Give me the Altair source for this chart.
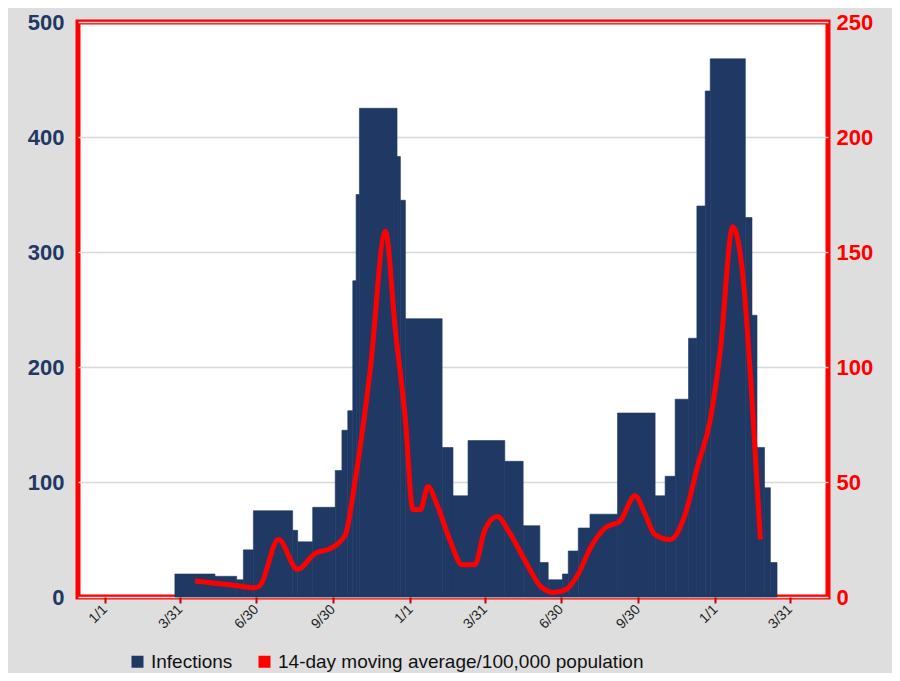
import altair as alt
import pandas as pd

# bar segments: start day (days since 2020-01-01) and infections
bar_start = [84,132,158,166,178,225,231,249,276,284,291,297,301,305,350,354,360,404,417,435,479,501,521,531,548,555,567,581,614,659,671,683,699,709,719,725,767,775,781,790,797]
bar_value = [20,18,15,41,75,58,48,78,110,145,162,275,350,425,383,345,242,130,88,136,118,62,30,15,20,40,60,72,160,88,105,172,225,340,440,468,330,245,130,95,30]
bar_last_end = 805

# 14-day moving average per 100,000
ma_day = [108,132,156,180,186,208,231,252,270,288,300,318,336,348,360,369,378,387,398,413,428,443,455,470,483,497,509,521,537,551,567,581,599,617,635,647,659,677,695,710,725,737,752,764,775,785]
ma_val = [7,6,5,4,5,25,12,19,21,27,51,99,159,116,77,38,38,48,40,25,14,14,29,35,29,20,12,5,2,3,10,21,30,33,44,36,27,25,36,57,77,107,161,140,86,25]

tick_days = [0,90,181,273,366,455,546,638,731,820]
tick_labels = ["1/1","3/31","6/30","9/30","1/1","3/31","6/30","9/30","1/1","3/31"]

NAVY = "#1f3864"
RED = "#ff0000"
L1 = "Infections"
L2 = "14-day moving average/100,000 population"

bars = pd.DataFrame({"s": bar_start, "e": bar_start[1:] + [bar_last_end], "v": bar_value, "k": L1})
ma = pd.DataFrame({"d": ma_day, "v": ma_val, "k": L2})

label_expr = "{" + ",".join(f"'{d}':'{l}'" for d, l in zip(tick_days, tick_labels)) + "}[datum.value]"

xscale = alt.Scale(domain=[-32, 866], nice=False, zero=False)
xaxis = alt.Axis(values=tick_days, labelExpr=label_expr, labelAngle=-45, labelAlign="right",
                 labelBaseline="middle", labelFontSize=14, labelColor="#222", grid=False,
                 tickColor="#cc0000", tickSize=6, tickWidth=2, domain=False, title=None, labelPadding=4)

color = alt.Color("k:N", scale=alt.Scale(domain=[L1, L2], range=[NAVY, RED]),
                  legend=alt.Legend(title=None, orient="none", legendX=50, legendY=630, direction="horizontal",
                                    labelFontSize=19, labelColor="#111", symbolType="square",
                                    symbolSize=110, columnPadding=22, labelLimit=0))

b = alt.Chart(bars).mark_bar(color=NAVY, stroke=NAVY, strokeWidth=0.6).encode(
    x=alt.X("s:Q", scale=xscale, axis=xaxis),
    x2="e:Q",
    y=alt.Y("v:Q", scale=alt.Scale(domain=[0, 500], nice=False),
            axis=alt.Axis(values=[0,100,200,300,400,500], labelFontSize=22, labelFontWeight="bold",
                          labelColor=NAVY, gridColor="#d8d8d8", gridWidth=1.5, ticks=False,
                          domain=False, title=None, labelPadding=14)),
    y2=alt.datum(0),
    color=color,
)

l = alt.Chart(ma).mark_line(strokeWidth=5, interpolate="monotone").encode(
    x=alt.X("d:Q", scale=xscale),
    y=alt.Y("v:Q", scale=alt.Scale(domain=[0, 250], nice=False),
            axis=alt.Axis(orient="right", values=[0,50,100,150,200,250], labelFontSize=22,
                          labelFontWeight="bold", labelColor=RED, grid=False, ticks=False,
                          domain=False, title=None, labelPadding=8)),
    color=color,
)

chart = alt.layer(b, l).resolve_scale(y="independent").properties(
    width=750, height=575, background="#dedede",
    autosize=alt.AutoSizeParams(type="none"),
    padding={"left": 70, "top": 14, "right": 64, "bottom": 76},
).configure_view(fill="white", stroke=RED, strokeWidth=5).configure_legend(labelFont="Liberation Sans")

chart.save("out.html", embed_options={"renderer": "svg", "actions": False})
